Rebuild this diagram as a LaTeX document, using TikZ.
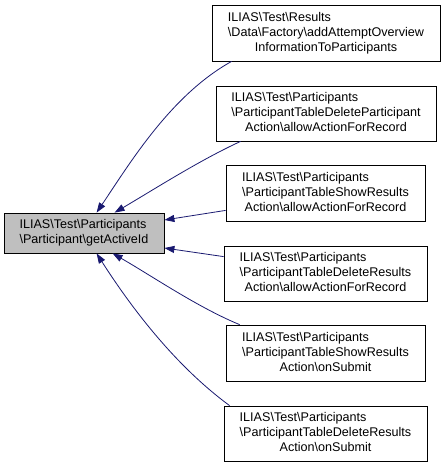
\documentclass[tikz,border=0pt]{standalone}
\usepackage{fontspec}
\setmainfont{Liberation Sans}
\usetikzlibrary{arrows.meta}
\definecolor{edgeblue}{HTML}{191970}
\definecolor{mainfill}{HTML}{BFBFBF}
\newcommand\bsl{\textbackslash}
\newcommand\fnlines[3]{%
  \begin{tabular}{@{}l@{}}#1\\#2\\\multicolumn{1}{@{}c@{}}{#3}\end{tabular}}
\tikzset{
    fn box/.style={
        draw,
        line width=0.8pt,
        fill=white,
        minimum height=56pt,
        inner sep=0pt,
        font=\fontsize{12.6}{15}\selectfont,
    },
    main box/.style={
        fn box,
        fill=mainfill,
        minimum height=40pt,
    },
    call edge/.style={
        color=edgeblue,
        line width=0.8pt,
        -{Triangle[length=10pt,width=7pt]},
    },
}
\begin{document}
\begin{tikzpicture}[x=1pt,y=-1pt]
    \useasboundingbox (0,0) rectangle (445,467);

    % the function that is called
    \node[main box, minimum width=160pt] (main) at (84,233)
        {\begin{tabular}{@{}l@{}}ILIAS\bsl Test\bsl Participants\\\multicolumn{1}{@{}c@{}}{\bsl Participant\bsl getActiveId}\end{tabular}};

    % callers
    \node[fn box, minimum width=228pt] (r1) at (326,33)
        {\fnlines{ILIAS\bsl Test\bsl Results}{\bsl Data\bsl Factory\bsl addAttemptOverview}{InformationToParticipants}};
    \node[fn box, minimum width=220pt, minimum height=55pt] (r2) at (326,113.5)
        {\fnlines{ILIAS\bsl Test\bsl Participants}{\bsl ParticipantTableDeleteParticipant}{Action\bsl allowActionForRecord}};
    \node[fn box, minimum width=199pt] (r3) at (325.5,193)
        {\fnlines{ILIAS\bsl Test\bsl Participants}{\bsl ParticipantTableShowResults}{Action\bsl allowActionForRecord}};
    \node[fn box, minimum width=203pt, minimum height=55pt] (r4) at (325.5,273.5)
        {\fnlines{ILIAS\bsl Test\bsl Participants}{\bsl ParticipantTableDeleteResults}{Action\bsl allowActionForRecord}};
    \node[fn box, minimum width=199pt] (r5) at (325.5,353)
        {\fnlines{ILIAS\bsl Test\bsl Participants}{\bsl ParticipantTableShowResults}{Action\bsl onSubmit}};
    \node[fn box, minimum width=203pt, minimum height=55pt] (r6) at (325.5,433.5)
        {\fnlines{ILIAS\bsl Test\bsl Participants}{\bsl ParticipantTableDeleteResults}{Action\bsl onSubmit}};

    % call edges
    \draw[call edge] ([xshift=20pt]r1.south west) .. controls (171,95) and (130,163) .. ([xshift=93pt]main.north west);
    \draw[call edge] ([xshift=25pt]r2.south west) .. controls (200,160) and (153,190) .. ([xshift=111pt]main.north west);
    \draw[call edge] ([yshift=11pt]r3.south west) -- ([yshift=13pt]main.east);
    \draw[call edge] ([yshift=-11pt]r4.north west) -- ([yshift=-15pt]main.east);
    \draw[call edge] ([xshift=14pt]r5.north west) .. controls (198,307.5) and (152,276) .. ([xshift=109pt]main.south west);
    \draw[call edge] ([xshift=6pt]r6.north west) .. controls (173,364) and (129,304) .. ([xshift=93pt]main.south west);
\end{tikzpicture}
\end{document}
